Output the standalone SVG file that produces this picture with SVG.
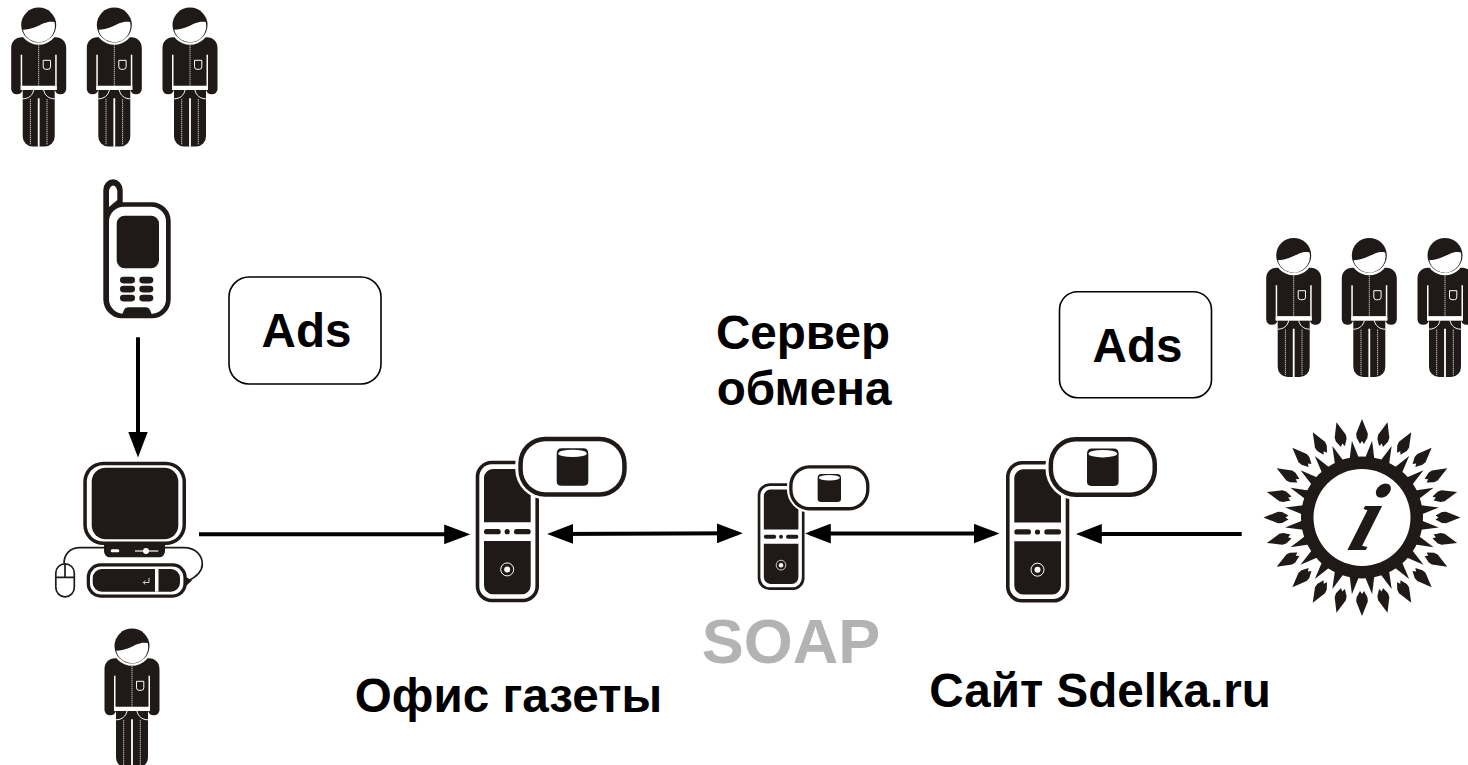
<svg xmlns="http://www.w3.org/2000/svg" xmlns:xlink="http://www.w3.org/1999/xlink" width="1468" height="765" viewBox="0 0 1468 765">
<style>
.k{fill:#1f1a17}.w{fill:#fff}
.t{font-family:"Liberation Sans",Arial,sans-serif;font-weight:700;font-size:47.600px;fill:#000;text-anchor:middle}
.conn{stroke:#000;stroke-width:4;fill:none}
.box{fill:#fff;stroke:#000;stroke-width:1.6}
.cable{fill:none;stroke:#1f1a17;stroke-width:1.7}
</style>
<defs>
<marker id="ah" markerUnits="userSpaceOnUse" markerWidth="26" markerHeight="20" viewBox="0 0 25 19" refX="20" refY="9.5" orient="auto-start-reverse"><path d="M0 0L25 9.500L0 19Z" fill="#000"/></marker>
<g id="person">
<path class="k" d="M-17 30H17C23 30 27.500 34 27.500 41V82A5.800 5.800 0 0 1 16 82V82.700H-16V82A5.800 5.800 0 0 1 -27.500 82V41C-27.500 34 -23 30 -17 30Z"/>
<circle class="w" cy="17.700" r="19.800"/>
<circle class="k" cy="17.700" r="17.500"/>
<path class="w" d="M-15.800 22.500C-7 22 -1 19 5 16C9 14.300 12 14 15.800 14.800A16 16 0 0 1 -15.800 22.500Z"/>
<path class="w" d="M-18 47.500H-16.500V78.500H16.500V47.500H18V82.700H-18Z"/>
<path class="k" d="M-16 82.700H16V129A10 10 0 0 1 6 139.300H-6A10 10 0 0 1 -16 129Z"/>
<path class="w" d="M-18 78.700H18V82.700H-18Z"/>
<path d="M0 91V139.500" stroke="#fff" stroke-width="1.800" fill="none"/>
<path d="M-16 91.500C-10 91.500 -6 88 -5 82.700M16 91.500C10 91.500 6 88 5 82.700" stroke="#fff" stroke-width="1" fill="none"/>
<path d="M0 38V78.500M-8.300 92V138M8.300 92V138" stroke="#fff" stroke-width="1" stroke-dasharray="1 1" fill="none"/>
<path d="M4.500 53H11.800V59.500Q11.800 62 9.300 62H7Q4.500 62 4.500 59.500Z" fill="none" stroke="#fff" stroke-width="1"/>
</g>
<g id="server">
<rect class="k" width="63.300" height="141.600" rx="16"/>
<rect class="w" x="3.600" y="3.600" width="56.100" height="134.400" rx="12.500"/>
<path class="k" d="M8.300 61.500V17A9 9 0 0 1 17 8.300H46A9 9 0 0 1 55 17V61.500Z"/>
<rect class="k" x="8.300" y="68.300" width="16.700" height="5.300" rx="2.600"/>
<rect class="k" x="38.300" y="68.300" width="16.700" height="5.300" rx="2.600"/>
<circle class="k" cx="31.500" cy="71" r="2.600"/>
<path class="k" d="M8.300 80.300H55V124.500A9 9 0 0 1 46 133.600H17A9 9 0 0 1 8.300 124.500Z"/>
<circle cx="31.500" cy="108.700" r="6.500" fill="none" stroke="#fff" stroke-width="1"/>
<circle class="w" cx="31.500" cy="108.700" r="3"/>
<rect class="w" x="39.500" y="-27" width="114.500" height="66" rx="31"/>
<rect class="k" x="42.600" y="-24" width="108.400" height="60" rx="27"/>
<rect class="w" x="47.100" y="-19.500" width="99.400" height="51" rx="22.500"/>
<path class="k" d="M81 -7Q81 -12.400 86 -12.400H107.600Q112.600 -12.400 112.600 -7V21Q112.600 25 107.600 25H86Q81 25 81 21Z"/>
<rect class="w" x="82.500" y="-11" width="28.600" height="7.400" rx="14" ry="3.700"/>
</g>
<g id="ray">
<path class="k" d="M98.500 0L84 -5.800L80 -5.500L73.500 -2L76.500 0L73.500 2L80 5.500L84 5.800Z"/>
<path class="k" transform="rotate(7.500)" d="M58 -5L77.500 0L58 5Z"/>
</g>
</defs>

<g id="connectors">
<path class="conn" d="M138 337.300V452.300" marker-end="url(#ah)"/>
<path class="conn" d="M199 534.300H465" marker-end="url(#ah)"/>
<path class="conn" d="M552.300 534L737.700 533.300" marker-start="url(#ah)" marker-end="url(#ah)"/>
<path class="conn" d="M810 533.500H994.300" marker-start="url(#ah)" marker-end="url(#ah)"/>
<path class="conn" d="M1241.700 534H1081" marker-end="url(#ah)"/>
</g>

<g id="users-top">
<use xlink:href="#person" href="#person" transform="translate(38.700 7.300)"/>
<use xlink:href="#person" href="#person" transform="translate(114.300 7.300)"/>
<use xlink:href="#person" href="#person" transform="translate(190 7.300)"/>
</g>

<g id="phone">
<path class="k" d="M103.300 190A9.700 10.700 0 0 1 122.700 190V202.300H152A18.700 18.700 0 0 1 170.700 221V299.600A18.700 18.700 0 0 1 152 318.300H122A18.700 18.700 0 0 1 103.300 299.600Z"/>
<path class="w" d="M109 192A4.150 6.500 0 0 1 117.300 192V200L109 207Z"/>
<rect class="w" x="109" y="206.700" width="57" height="107.300" rx="15"/>
<rect class="k" x="116.700" y="215.700" width="42.300" height="52.600" rx="8"/>
<rect class="k" x="120" y="276.700" width="15" height="6.700" rx="3.300"/>
<rect class="k" x="139.300" y="276.700" width="14" height="6.700" rx="3.300"/>
<rect class="k" x="120" y="285.700" width="15" height="6.700" rx="3.300"/>
<rect class="k" x="139.300" y="285.700" width="14" height="6.700" rx="3.300"/>
<rect class="k" x="120" y="294.700" width="15" height="6.700" rx="3.300"/>
<rect class="k" x="139.300" y="294.700" width="14" height="6.700" rx="3.300"/>
<path class="k" d="M121.500 316L124 310Q125 307.300 128 307.300H146Q149 307.300 150 310L152.500 316Z"/>
</g>

<g id="ads-left">
<rect class="box" x="229" y="277" width="152" height="107" rx="20"/>
<text class="t" x="306.500" y="347">Ads</text>
</g>

<g id="computer">
<path class="cable" d="M105 547.700H80C70 547.700 64 554 64 563.500M165 547.700H184C195 547.700 202.300 555 202.300 564C202.300 572 196 577 188 581"/>
<rect class="k" x="83.300" y="461.700" width="102.700" height="83.300" rx="20"/>
<rect class="w" x="86.800" y="465.200" width="95.700" height="76.300" rx="16.500"/>
<rect class="k" x="91.700" y="467.700" width="86.600" height="71.600" rx="14"/>
<path class="k" d="M104 545H165V551A6 6 0 0 1 159 557.300H110A6 6 0 0 1 104 551Z"/>
<rect class="w" x="110.700" y="549.300" width="8.600" height="3" rx="1.500"/>
<path d="M135 551H158.300" stroke="#fff" stroke-width="1.200"/>
<circle class="w" cx="146" cy="551" r="3"/>
<rect x="55.800" y="563.800" width="18.500" height="33" rx="9.200" fill="#fff" stroke="#1f1a17" stroke-width="1.700"/>
<path class="cable" d="M56 577.300H74M65 564V577.300"/>
<path class="k" d="M186 577L192 580.500L186 586Z"/>
<rect class="k" x="86.700" y="563.300" width="100" height="34.400" rx="14"/>
<rect class="w" x="90" y="566.600" width="93.400" height="27.800" rx="11"/>
<rect class="k" x="92.700" y="569" width="87.300" height="22.700" rx="9"/>
<rect class="w" x="155" y="569" width="3.500" height="22.700"/>
<path d="M149 578V582.500H143.500M145.300 580.500L143.300 582.500L145.300 584.500" stroke="#fff" stroke-width=".8" fill="none"/>
</g>

<g id="user-bottom"><use xlink:href="#person" href="#person" transform="translate(132 628.300)"/></g>

<g id="server-office"><use xlink:href="#server" href="#server" transform="translate(475.700 460.700)"/></g>
<g id="server-exchange"><use xlink:href="#server" href="#server" transform="translate(757.700 483.300) scale(.74 .753)"/></g>
<g id="server-site"><use xlink:href="#server" href="#server" transform="translate(1006 461)"/></g>

<g id="ads-right">
<rect class="box" x="1059.500" y="291.700" width="152" height="106" rx="18"/>
<text class="t" x="1137.500" y="361.500">Ads</text>
</g>

<g id="users-right">
<use xlink:href="#person" href="#person" transform="translate(1293.700 237.700)"/>
<use xlink:href="#person" href="#person" transform="translate(1369.300 237.700)"/>
<use xlink:href="#person" href="#person" transform="translate(1445 237.700)"/>
</g>

<g id="info-sun">
<g transform="translate(1362 517.500)">
<use href="#ray" transform="rotate(0)"/><use href="#ray" transform="rotate(15)"/><use href="#ray" transform="rotate(30)"/><use href="#ray" transform="rotate(45)"/>
<use href="#ray" transform="rotate(60)"/><use href="#ray" transform="rotate(75)"/><use href="#ray" transform="rotate(90)"/><use href="#ray" transform="rotate(105)"/>
<use href="#ray" transform="rotate(120)"/><use href="#ray" transform="rotate(135)"/><use href="#ray" transform="rotate(150)"/><use href="#ray" transform="rotate(165)"/>
<use href="#ray" transform="rotate(180)"/><use href="#ray" transform="rotate(195)"/><use href="#ray" transform="rotate(210)"/><use href="#ray" transform="rotate(225)"/>
<use href="#ray" transform="rotate(240)"/><use href="#ray" transform="rotate(255)"/><use href="#ray" transform="rotate(270)"/><use href="#ray" transform="rotate(285)"/>
<use href="#ray" transform="rotate(300)"/><use href="#ray" transform="rotate(315)"/><use href="#ray" transform="rotate(330)"/><use href="#ray" transform="rotate(345)"/>
<circle class="k" r="61"/>
<circle class="w" r="48.500"/>
</g>
<text transform="translate(1345 549.500) skewX(-18)" font-family="'Liberation Serif',serif" font-style="italic" font-weight="700" font-size="96" fill="#1f1a17">i</text>
</g>

<g id="labels">
<text class="t" x="803" y="348.500">Сервер</text>
<text class="t" x="804" y="404.500">обмена</text>
<text class="t" x="791" y="663" style="font-size:63px;fill:#b3b3b3">SOAP</text>
<text class="t" x="508.500" y="711.500">Офис газеты</text>
<text class="t" x="1100" y="707">Сайт Sdelka.ru</text>
</g>
</svg>
